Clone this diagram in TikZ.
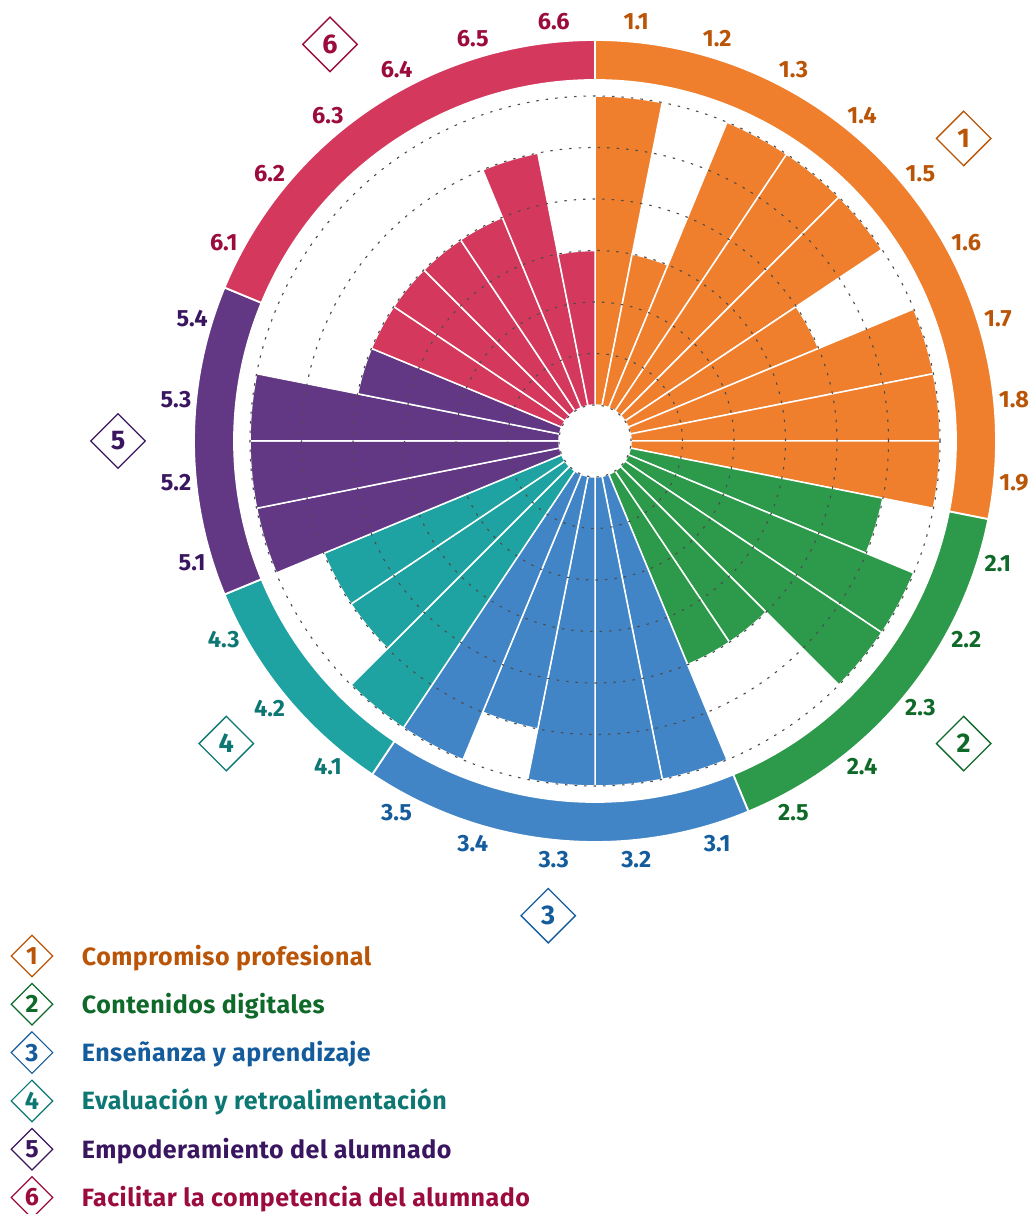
\documentclass[tikz,border=0pt]{standalone}
\usepackage{fontspec}
\setmainfont{Fira Sans}
\usetikzlibrary{shapes.geometric}
\definecolor{c1}{HTML}{EF7F2D}\definecolor{t1}{HTML}{BA5508}
\definecolor{c2}{HTML}{2C9A4A}\definecolor{t2}{HTML}{0F6A2A}
\definecolor{c3}{HTML}{4285C6}\definecolor{t3}{HTML}{155C9C}
\definecolor{c4}{HTML}{1FA3A2}\definecolor{t4}{HTML}{0D7773}
\definecolor{c5}{HTML}{623885}\definecolor{t5}{HTML}{3A1660}
\definecolor{c6}{HTML}{D4395D}\definecolor{t6}{HTML}{9B0B3E}
\begin{document}
\begin{tikzpicture}[x=1pt,y=1pt,
  lbl/.style={font=\bfseries\fontsize{23.5}{23.5}\selectfont, inner sep=0pt},
  gdia/.style={diamond, aspect=1, draw, fill=white, line width=1.3pt, minimum width=55pt, minimum height=55pt, inner sep=0pt, font=\bfseries\fontsize{27}{27}\selectfont},
  ldia/.style={diamond, aspect=1, draw, fill=white, line width=1.2pt, minimum width=42pt, minimum height=42pt, inner sep=0pt, font=\bfseries\fontsize{25}{25}\selectfont},
  legtxt/.style={anchor=base west, inner sep=0pt, font=\bfseries\fontsize{25}{25}\selectfont\addfontfeatures{LetterSpace=2}},
  dotc/.style={draw=black!70, line width=1.1pt, dash pattern=on 2.5pt off 7pt},
  sep/.style={draw=white, line width=1.5pt}]
\useasboundingbox[fill=white] (-595,-773) rectangle (437,441);
\clip (-595,-773) rectangle (437,441);
% bars and item labels
\foreach \g/\k/\v [count=\i from 0] in {1/1/6,1/2/3,1/3/6,1/4/6,1/5/6,1/6/4,1/7/6,1/8/6,1/9/6,2/1/5,2/2/6,2/3/6,2/4/4,2/5/4,3/1/6,3/2/6,3/3/6,3/4/5,3/5/6,4/1/6,4/2/5,4/3/5,5/1/6,5/2/6,5/3/6,5/4/4,6/1/4,6/2/4,6/3/4,6/4/4,6/5/5,6/6/3}{
  \pgfmathsetmacro{\aa}{90-11.25*\i}
  \pgfmathsetmacro{\ab}{\aa-11.25}
  \pgfmathsetmacro{\am}{\aa-5.625}
  \pgfmathsetmacro{\rr}{36+51.5*\v}
  \filldraw[fill=c\g, sep] (\aa:36) arc[start angle=\aa, end angle=\ab, radius=36] -- (\ab:\rr) arc[start angle=\ab, end angle=\aa, radius=\rr] -- cycle;
  \node[lbl, text=t\g] (lab\g-\k) at (\am:421) {\g.\k};
}
% dotted grid circles
\foreach \k in {0,...,6}{
  \pgfmathsetmacro{\rc}{36+51.5*\k}
  \draw[dotc] (0,0) circle[radius=\rc];
}
% outer ring
\foreach \g/\s/\e in {1/90/-11.25, 2/-11.25/-67.5, 3/-67.5/-123.75, 4/-123.75/-157.5, 5/-157.5/-202.5, 6/-202.5/-270}{
  \filldraw[fill=c\g, draw=white, line width=1.8pt] (\s:361) arc[start angle=\s, end angle=\e, radius=361] -- (\e:401) arc[start angle=\e, end angle=\s, radius=401] -- cycle;
}
% group diamonds
\foreach \g/\a in {1/39.375, 2/-39.375, 3/-95.625, 4/-140.625, 5/-180, 6/123.75}{
  \node[gdia, draw=t\g, text=t\g] (grp\g) at (\a:477) {\g};
}
% legend
\foreach \g/\t [count=\j from 0] in {1/Compromiso profesional, 2/Contenidos digitales, 3/Enseñanza y aprendizaje, 4/Evaluación y retroalimentación, 5/Empoderamiento del alumnado, 6/Facilitar la competencia del alumnado}{
  \node[ldia, draw=t\g, text=t\g] (leg\g) at (-563, -515-48.3*\j) {\g};
  \node[legtxt, text=t\g] (legt\g) at (-513.3, -524-48.3*\j) {\t};
}
\end{tikzpicture}
\end{document}
